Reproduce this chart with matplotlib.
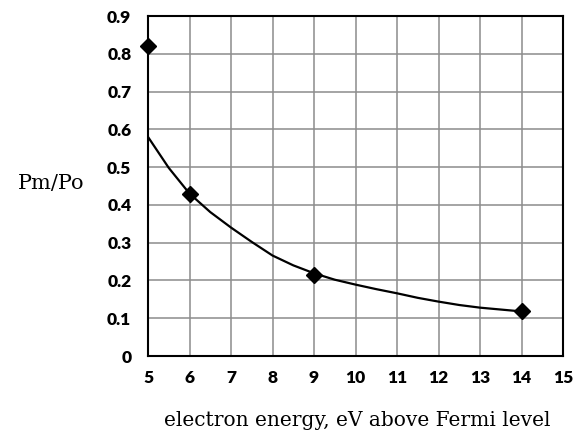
import matplotlib
matplotlib.use('Agg')
import matplotlib.pyplot as plt

# measured points
energy = [5, 6, 9, 14]
ratio = [0.82, 0.43, 0.215, 0.12]

# trend curve
curve_x = [5, 5.5, 6, 6.5, 7, 7.5, 8, 8.5, 9, 9.5, 10, 10.5, 11, 11.5, 12, 12.5, 13, 13.5, 14]
curve_y = [0.58, 0.498, 0.43, 0.381, 0.340, 0.302, 0.266, 0.240, 0.219, 0.202, 0.189,
           0.177, 0.166, 0.154, 0.144, 0.135, 0.128, 0.123, 0.118]

xticks = list(range(5, 16))
yticks = [0, 0.1, 0.2, 0.3, 0.4, 0.5, 0.6, 0.7, 0.8, 0.9]
ytick_labels = ['0', '0.1', '0.2', '0.3', '0.4', '0.5', '0.6', '0.7', '0.8', '0.9']

fig = plt.figure(figsize=(5.82, 4.34), dpi=100)
ax = fig.add_axes([0.2543, 0.1797, 0.7131, 0.7834])

ax.plot(curve_x, curve_y, color='black', linewidth=1.6,
        solid_joinstyle='round', zorder=3)
ax.plot(energy, ratio, linestyle='none', marker='D', markersize=8,
        color='black', clip_on=False, zorder=4)

ax.set_xlim(5, 15)
ax.set_ylim(0, 0.9)
ax.set_xticks(xticks)
ax.set_yticks(yticks)
ax.set_yticklabels(ytick_labels)
ax.grid(True, color='#8c8c8c', linewidth=1.1)
ax.set_axisbelow(True)
for s in ax.spines.values():
    s.set_linewidth(1.5)
    s.set_color('black')

ax.tick_params(length=0)
ax.tick_params(axis='y', pad=12)
ax.tick_params(axis='x', pad=10)
for lab in ax.get_xticklabels() + ax.get_yticklabels():
    lab.set_fontfamily('Lato')
    lab.set_fontweight('heavy')
    lab.set_fontsize(12.5)

fig.text(0.088, 0.578, 'Pm/Po', family='DejaVu Serif', fontsize=15,
         ha='center', va='center')
fig.text(0.613, 0.032, 'electron energy, eV above Fermi level',
         family='DejaVu Serif', fontsize=14.5, ha='center', va='center')

fig.savefig('out.png', dpi=100)
